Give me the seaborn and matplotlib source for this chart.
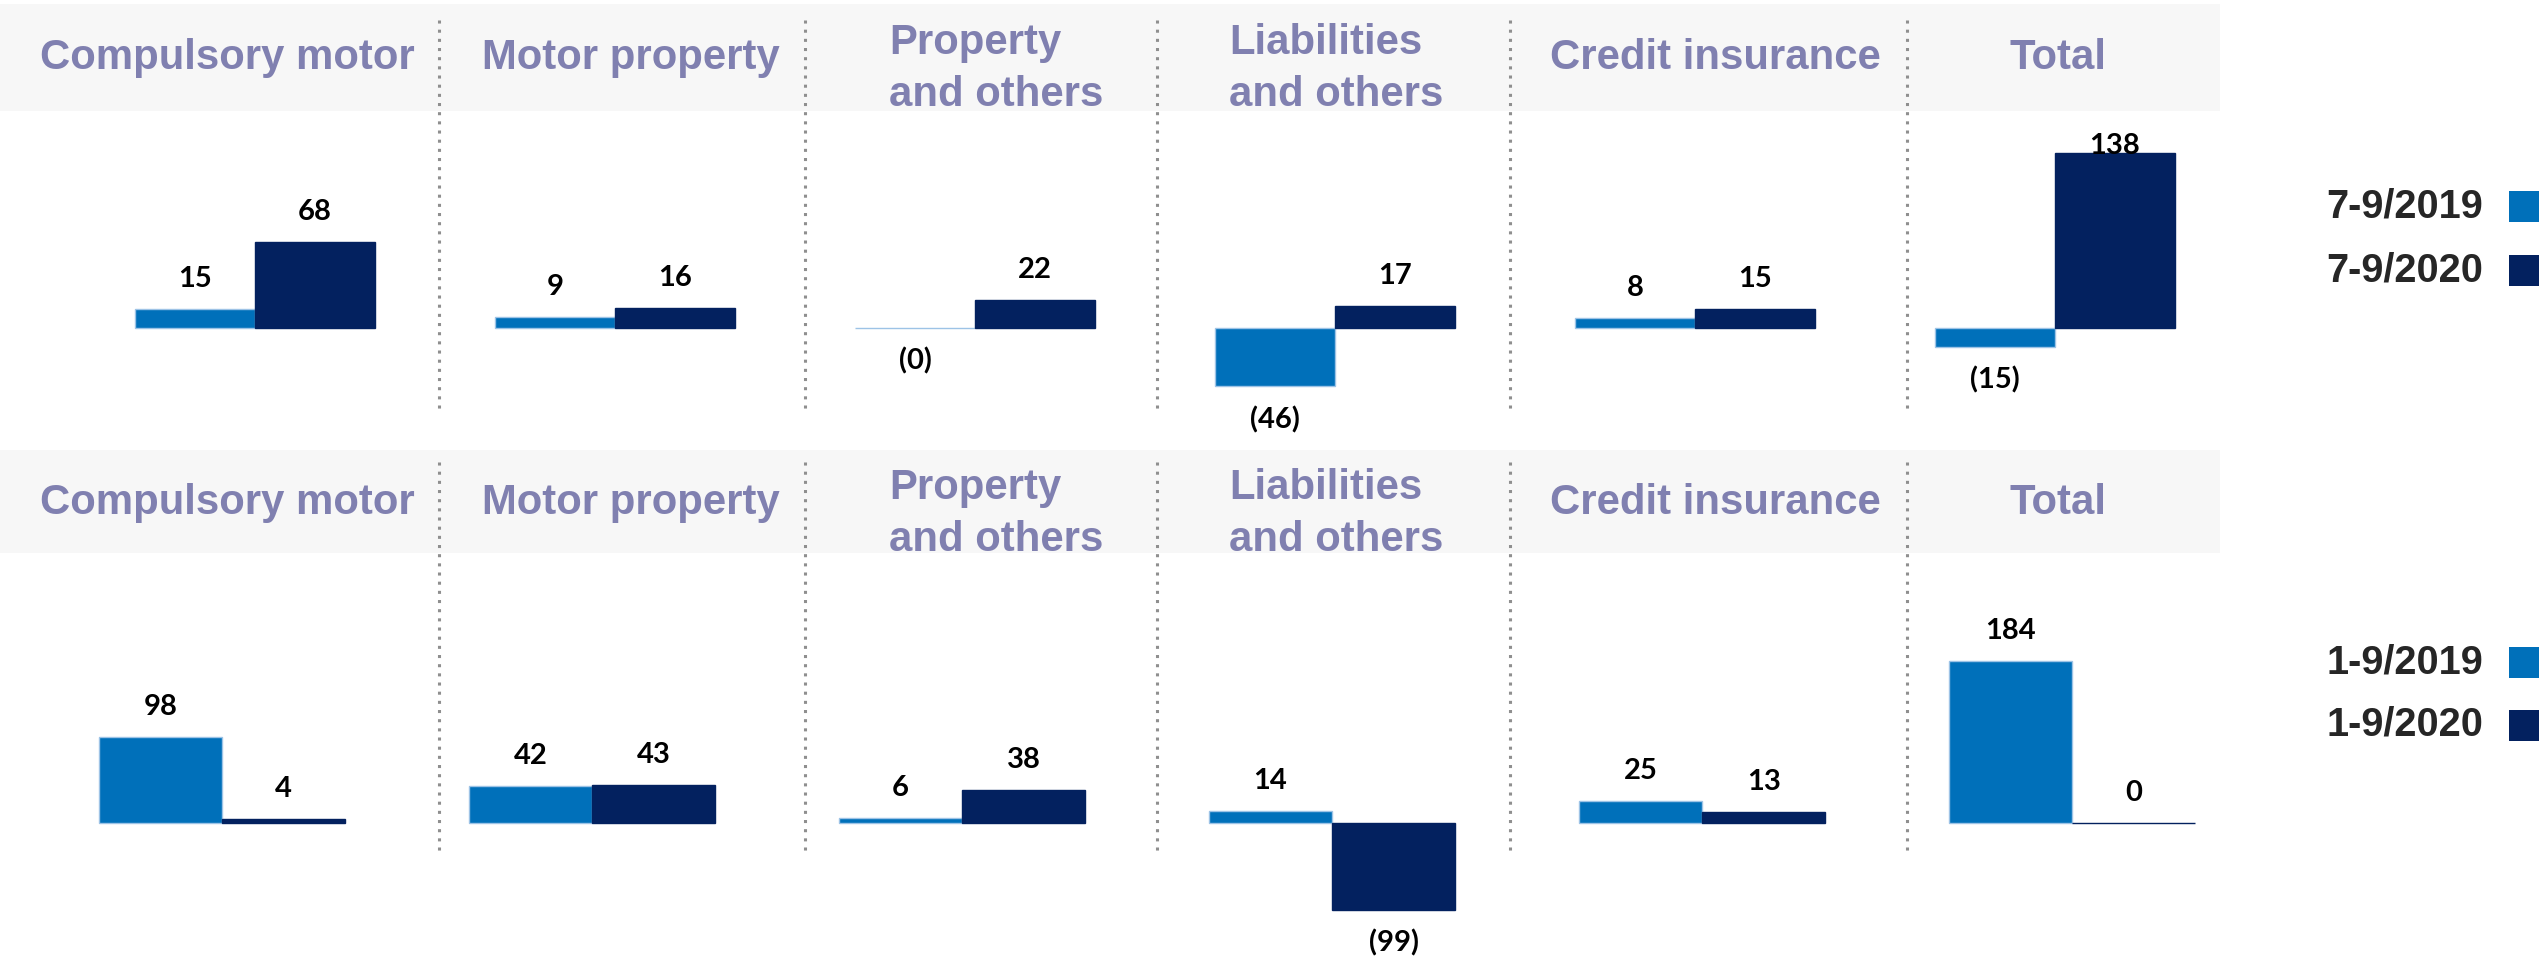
import numpy as np
import pandas as pd
import matplotlib.pyplot as plt
import seaborn as sns
from matplotlib.patches import Rectangle
from matplotlib.lines import Line2D

# -----------------------------
# Data
# -----------------------------
categories = ["Compulsory motor", "Motor property", "Property\nand others",
              "Liabilities\nand others", "Credit insurance", "Total"]

q3_periods = ["7-9/2019", "7-9/2020"]
q3_2019 = [15, 9, -0.3, -46, 8, -15]
q3_2020 = [68, 16, 22, 17, 15, 138]

ytd_periods = ["1-9/2019", "1-9/2020"]
ytd_2019 = [98, 42, 6, 14, 25, 184]
ytd_2020 = [4, 43, 38, -99, 13, 0]

# -----------------------------
# Style
# -----------------------------
LIGHT = "#0070ba"
NAVY = "#03215f"
LIGHT_EDGE = "#9dc3e6"
HEAD_COLOR = "#8080b0"
BAND = "#f7f7f7"

W, H = 2539, 958
sns.set_style("white")
plt.rcParams["font.family"] = ["Liberation Sans", "DejaVu Sans"]

fig = plt.figure(figsize=(W / 100, H / 100), dpi=100)


def fx(px):
    return px / W


def fy(py):
    return 1 - py / H


def fmt(v):
    r = int(round(abs(v)))
    return f"({r})" if v < 0 else f"{r}"


# layout for each row: axes top/bottom px, baseline px, px per unit,
# x px of first category, px between categories, header band, label cap
rows = [
    dict(periods=q3_periods, a=q3_2019, b=q3_2020, top=112, bottom=440,
         base=328, ppu=1.27, x0=255, step=360, band=(4, 111), off=0,
         sep=(20, 410), legend_y=(206, 270), cap=120),
    dict(periods=ytd_periods, a=ytd_2019, b=ytd_2020, top=556, bottom=958,
         base=823, ppu=0.88, x0=222, step=370, band=(450, 553), off=445,
         sep=(462, 855), legend_y=(662, 725), cap=None),
]

sep_px = [439, 805, 1157, 1510, 1907]
head_px = [227, 631, 996, 1336, 1715, 2058]

for r in rows:
    # header band
    fig.patches.append(Rectangle((0, fy(r["band"][1])), fx(2220),
                                 (r["band"][1] - r["band"][0]) / H,
                                 transform=fig.transFigure, facecolor=BAND,
                                 edgecolor="none", zorder=0))

    ax = fig.add_axes([0, fy(r["bottom"]), 1, (r["bottom"] - r["top"]) / H])
    ax.patch.set_visible(False)

    df = pd.DataFrame({
        "category": categories * 2,
        "period": [r["periods"][0]] * len(categories) + [r["periods"][1]] * len(categories),
        "value": list(r["a"]) + list(r["b"]),
    })
    sns.barplot(data=df, x="category", y="value", hue="period",
                order=categories, hue_order=r["periods"],
                palette=[LIGHT, NAVY], width=2 / 3, errorbar=None,
                legend=False, ax=ax, saturation=1)

    for cont, edge, vals in zip(ax.containers, [LIGHT_EDGE, NAVY], [r["a"], r["b"]]):
        for patch, v in zip(cont.patches, vals):
            patch.set_edgecolor(edge)
            patch.set_linewidth(1.0)
            cx = patch.get_x() + patch.get_width() / 2
            if v < 0:
                anchor, dy = v, -33
            else:
                anchor = v if r["cap"] is None else min(v, r["cap"])
                dy = 30
            ax.annotate(fmt(v), (cx, anchor), xytext=(0, dy),
                        textcoords="offset pixels", ha="center", va="center",
                        fontsize=21, fontweight="bold", family="Lato",
                        color="black")

    ax.set_xlim(-r["x0"] / r["step"], (W - r["x0"]) / r["step"])
    ax.set_ylim(-(r["bottom"] - r["base"]) / r["ppu"], (r["base"] - r["top"]) / r["ppu"])
    ax.axis("off")

    # dotted separators
    for s in sep_px:
        fig.add_artist(Line2D([fx(s), fx(s)], [fy(r["sep"][0]), fy(r["sep"][1])],
                              transform=fig.transFigure, color="#8f8f8f",
                              linewidth=2.2, linestyle=(0, (1, 2))))

    # column headers
    for name, hx in zip(categories, head_px):
        top_px = (23 if "\n" in name else 38) + r["off"]
        fig.text(fx(hx), fy(top_px), name, ha="center", va="top",
                 multialignment="left", fontsize=30.2, fontweight="bold",
                 color=HEAD_COLOR, linespacing=1.4)

    # legend
    for label, color, ly in zip(r["periods"], [LIGHT, NAVY], r["legend_y"]):
        fig.text(fx(2483), fy(ly), label, ha="right", va="center",
                 fontsize=28.6, fontweight="bold", color="#262626")
        fig.patches.append(Rectangle((fx(2509), fy(ly + 15.5)), fx(40), 31 / H,
                                     transform=fig.transFigure, facecolor=color,
                                     edgecolor="none"))

fig.savefig("out.png", dpi=100)
